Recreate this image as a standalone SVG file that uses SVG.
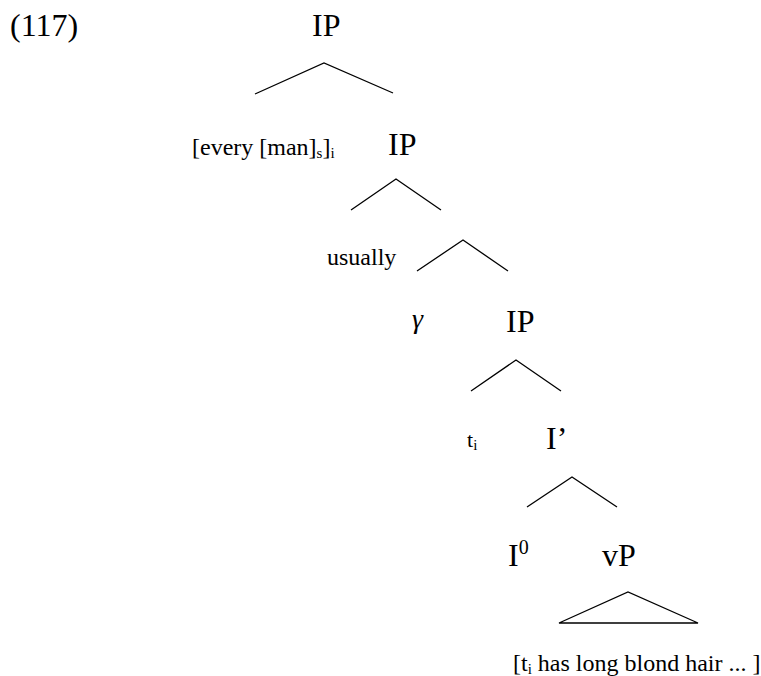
<svg xmlns="http://www.w3.org/2000/svg" width="761" height="676" viewBox="0 0 761 676">
<style>
text{font-family:"Liberation Serif","Times New Roman",serif;fill:#000}
.big{font-size:32px}
.med{font-size:24px}
.sub{font-size:15px}
.edge{stroke:#000;stroke-width:1.3;fill:none}
</style>
<rect width="761" height="676" fill="#fff"/>
<g id="label"><text class="big" x="10" y="36">(117)</text></g>
<g id="n-ip1"><text class="big" x="312" y="36">IP</text></g>
<g id="n-every"><text class="med" x="192" y="155">[every [man]<tspan class="sub" dy="3">s</tspan><tspan dy="-3">]</tspan><tspan class="sub" dy="3">i</tspan></text></g>
<g id="n-ip2"><text class="big" x="388" y="155">IP</text></g>
<g id="n-usually"><text class="med" x="327" y="265">usually</text></g>
<g id="n-gamma"><text class="med" x="412" y="328" style="font-size:28px;font-style:italic">γ</text></g>
<g id="n-ip3"><text class="big" x="506" y="332">IP</text></g>
<g id="n-ti"><text class="med" x="467" y="447" style="font-size:22px">t<tspan class="sub" dy="3">i</tspan></text></g>
<g id="n-ibar"><text class="big" x="546" y="449">I’</text></g>
<g id="n-i0"><text class="big" x="508" y="566">I<tspan style="font-size:20px" dy="-12">0</tspan></text></g>
<g id="n-vp"><text class="big" x="602" y="566">vP</text></g>
<g id="n-bottom"><text class="med" x="513" y="671">[t<tspan class="sub" dy="3">i</tspan><tspan dy="-3"> has long blond hair ... ]</tspan></text></g>
<g id="connectors">
<polyline class="edge" points="255,94 324,63 393,93"/>
<polyline class="edge" points="351,210 396,179 441,210"/>
<polyline class="edge" points="417,271 463,240 508,271"/>
<polyline class="edge" points="471,391 516,360 561,391"/>
<polyline class="edge" points="527,507 572,477 617,507"/>
<polygon class="edge" points="559,623 628,592 698,623"/>
</g>
</svg>
